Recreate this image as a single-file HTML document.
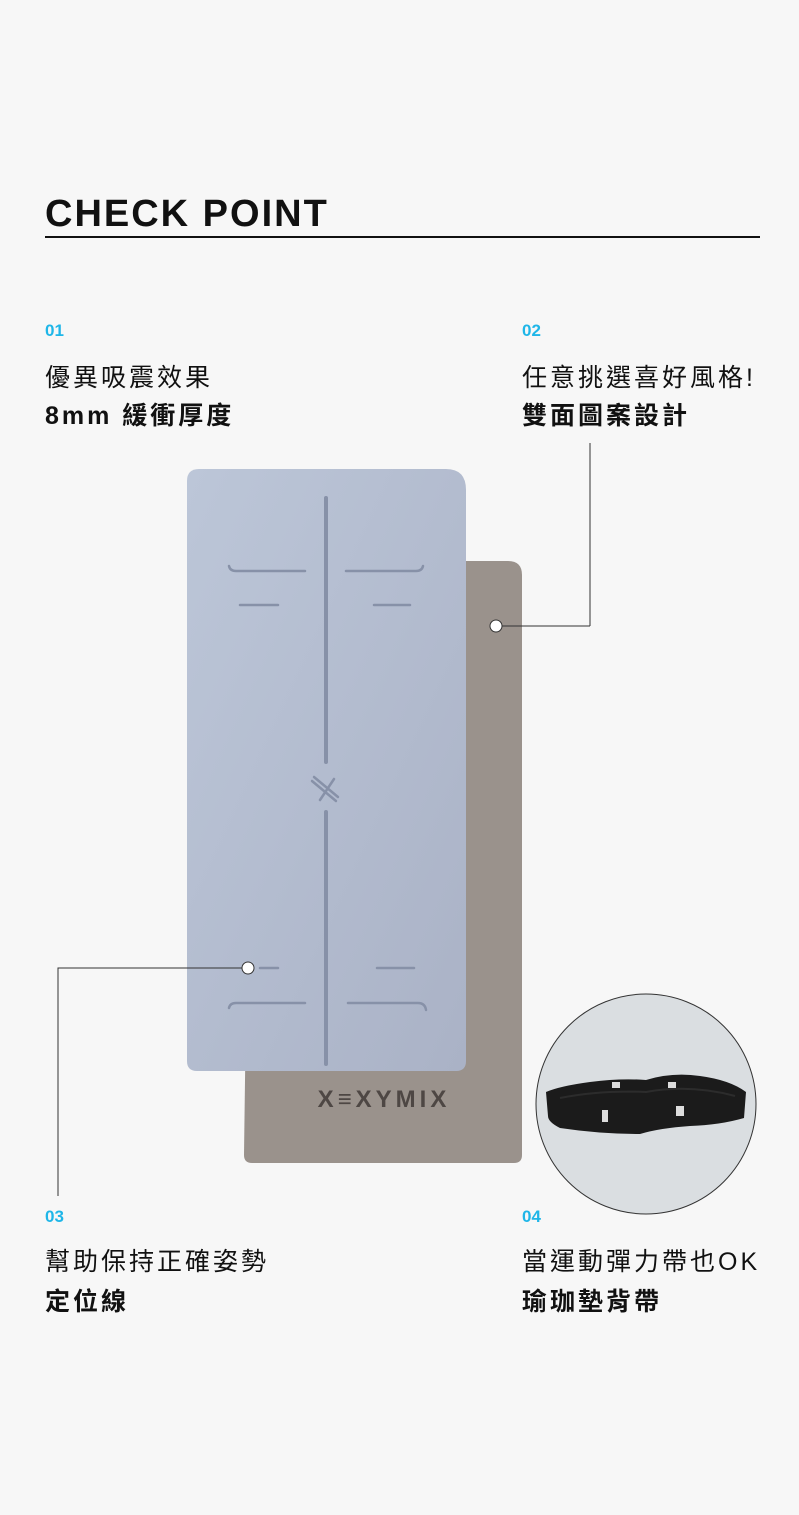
<!DOCTYPE html>
<html><head><meta charset="utf-8"><style>
body{margin:0;background:#f7f7f7;}
.w{position:relative;width:799px;height:1515px;overflow:hidden;background:#f7f7f7;font-family:"Liberation Sans","Noto Sans CJK TC",sans-serif;color:#111;}
.t{position:absolute;white-space:nowrap;}
.num{color:#1fb6e8;font-size:17px;font-weight:bold;}
.l1{font-size:25px;letter-spacing:3px;}
.l2{font-size:25px;font-weight:bold;letter-spacing:3px;}
</style></head><body><div class="w">
<div class="t" style="left:45px;top:193px;font-size:38px;font-weight:bold;letter-spacing:2px;">CHECK POINT</div>
<div style="position:absolute;left:45px;top:236px;width:715px;height:2px;background:#111"></div>

<div class="t num" style="left:45px;top:321px">01</div>
<div class="t l1" style="left:45px;top:358px">優異吸震效果</div>
<div class="t l2" style="left:45px;top:396px">8mm 緩衝厚度</div>

<div class="t num" style="left:522px;top:321px">02</div>
<div class="t l1" style="left:522px;top:358px">任意挑選喜好風格!</div>
<div class="t l2" style="left:522px;top:396px">雙面圖案設計</div>

<div class="t num" style="left:45px;top:1207px">03</div>
<div class="t l1" style="left:45px;top:1242px">幫助保持正確姿勢</div>
<div class="t l2" style="left:45px;top:1282px">定位線</div>

<div class="t num" style="left:522px;top:1207px">04</div>
<div class="t l1" style="left:522px;top:1242px">當運動彈力帶也OK</div>
<div class="t l2" style="left:522px;top:1282px">瑜珈墊背帶</div>

<svg style="position:absolute;left:0;top:0" width="799" height="1515">
<defs><linearGradient id="b" x1="0" y1="0" x2="1" y2="1"><stop offset="0" stop-color="#bcc6d8"/><stop offset="1" stop-color="#aab2c6"/></linearGradient></defs>
<path d="M252 561 H508 Q522 561 522 575 V1155 Q522 1163 514 1163 H252 Q244 1163 244 1155 Z" fill="#9a928c"/>
<text x="384" y="1107" font-family="Liberation Sans" font-weight="bold" font-size="24" fill="#4e4744" text-anchor="middle" letter-spacing="4">X≡XYMIX</text>
<path d="M199 469 H446 Q466 469 466 490 V1061 Q466 1071 456 1071 H197 Q187 1071 187 1061 V481 Q187 469 199 469 Z" fill="url(#b)"/>
<g stroke="#8791a8" stroke-width="2.5" fill="none" stroke-linecap="round">
<path d="M326 498 V762 M326 812 V1064" stroke-width="4"/>
<path d="M229 566 Q230 571 236 571 H305 M346 571 H416 Q422 571 423 566"/>
<path d="M240 605 H278 M374 605 H410"/>
<path d="M260 968 H278 M377 968 H414"/>
<path d="M229 1008 Q230 1003 236 1003 H305 M348 1003 H418 Q425 1003 426 1010"/>
<path d="M314 777 L338 797 M312 781 L336 801 M320 800 L334 779"/>
</g>
<circle cx="646" cy="1104" r="110" fill="#dadee1" stroke="#333" stroke-width="1"/>
<path d="M546 1092 Q560 1086 590 1082 Q620 1078 646 1080 Q672 1072 700 1076 Q730 1080 746 1092 L744 1118 Q720 1125 690 1126 Q660 1128 640 1134 Q600 1134 560 1128 Q548 1122 548 1116 Z" fill="#1b1b1b"/>
<path d="M560 1098 Q600 1090 646 1092 Q690 1084 735 1096" stroke="#2c2c2c" stroke-width="2" fill="none"/>
<g fill="#ddd"><rect x="602" y="1110" width="6" height="12"/><rect x="676" y="1106" width="8" height="10"/><rect x="612" y="1082" width="8" height="6"/><rect x="668" y="1082" width="8" height="6"/></g>
<g stroke="#333" stroke-width="1" fill="none">
<path d="M590 626 H496 M590 626 V443"/>
<path d="M248 968 H58 V1196"/>
</g>
<circle cx="496" cy="626" r="6" fill="#fff" stroke="#333"/>
<circle cx="248" cy="968" r="6" fill="#fff" stroke="#333"/>
</svg>
</div></body></html>
